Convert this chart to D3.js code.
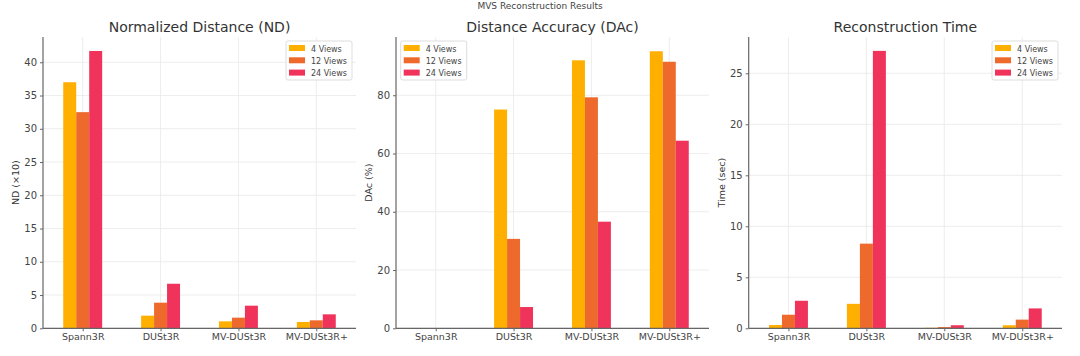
<!DOCTYPE html>
<html><head><meta charset="utf-8">
<script src="https://cdn.jsdelivr.net/npm/d3@7"></script>
<style>body{margin:0;background:#fff;} svg{display:block;font-family:"DejaVu Sans",sans-serif;}</style>
</head><body>
<script>
const categories = ["Spann3R","DUSt3R","MV-DUSt3R","MV-DUSt3R+"];
const seriesNames = ["4 Views","12 Views","24 Views"];
const colors = ["#FFAF00","#EE6A2C","#F0335A"];
const ndValues = [[37.0,1.9,1.05,0.95],[32.5,3.85,1.6,1.2],[41.7,6.7,3.4,2.1]];
const dacValues = [[0,75.1,92.0,95.1],[0,30.7,79.3,91.5],[0,7.3,36.6,64.4]];
const timeValues = [[0.32,2.4,0.05,0.3],[1.33,8.3,0.12,0.85],[2.7,27.2,0.3,1.95]];
const ndTicks = [0,5,10,15,20,25,30,35,40];
const dacTicks = [0,20,40,60,80];
const timeTicks = [0,5,10,15,20,25];

const W=1080,H=356;
const svg=d3.select("body").append("svg").attr("width",W).attr("height",H);
svg.append("text").attr("x",540).attr("y",9).attr("text-anchor","middle")
  .attr("font-size",9).attr("fill","#444").text("MVS Reconstruction Results");

const panels=[
 {title:"Normalized Distance (ND)",ylabel:"ND (×10)",vals:ndValues,ticks:ndTicks,ymax:43.8,x0:43,x1:356,lx:19,legend:"right"},
 {title:"Distance Accuracy (DAc)",ylabel:"DAc (%)",vals:dacValues,ticks:dacTicks,ymax:100.0,x0:396,x1:709,lx:372,legend:"left"},
 {title:"Reconstruction Time",ylabel:"Time (sec)",vals:timeValues,ticks:timeTicks,ymax:28.56,x0:748.7,x1:1062,lx:725,legend:"right"}
];
const yTop=37,yBot=328.3;
panels.forEach(p=>{
  const g=svg.append("g");
  const x=d3.scaleLinear().domain([-0.51,3.51]).range([p.x0,p.x1]);
  const y=d3.scaleLinear().domain([0,p.ymax]).range([yBot,yTop]);
  const bw=1/6;
  // grid
  g.selectAll(".hg").data(p.ticks).join("line").attr("x1",p.x0).attr("x2",p.x1)
   .attr("y1",d=>y(d)).attr("y2",d=>y(d)).attr("stroke","#e8e8e8").attr("stroke-width",0.8);
  g.selectAll(".vg").data(categories).join("line").attr("x1",(d,i)=>x(i)).attr("x2",(d,i)=>x(i))
   .attr("y1",yTop).attr("y2",yBot).attr("stroke","#e8e8e8").attr("stroke-width",0.8);
  // bars
  p.vals.forEach((s,si)=>{
    g.selectAll(".b"+si).data(s).join("rect")
     .attr("x",(d,i)=>x(i+(si-1)*bw-bw/2)).attr("width",x(bw)-x(0))
     .attr("y",d=>y(d)).attr("height",d=>yBot-y(d)).attr("fill",colors[si]);
  });
  // axes
  const ya=d3.axisLeft(y).tickValues(p.ticks).tickSize(3).tickPadding(3).tickFormat(d3.format("d"));
  const ag=g.append("g").attr("transform",`translate(${p.x0},0)`).call(ya);
  ag.select(".domain").remove();
  ag.selectAll("text").attr("font-size",10).attr("fill","#444").attr("font-family","DejaVu Sans");
  ag.selectAll("line").attr("stroke","#666");
  const xa=d3.axisBottom(x).tickValues([0,1,2,3]).tickFormat(i=>categories[i]).tickSize(3).tickPadding(2);
  const bg=g.append("g").attr("transform",`translate(0,${yBot})`).call(xa);
  bg.select(".domain").remove();
  bg.selectAll("text").attr("font-size",9.5).attr("fill","#444").attr("font-family","DejaVu Sans");
  bg.selectAll("line").attr("stroke","#666");
  g.append("line").attr("x1",p.x0).attr("x2",p.x0).attr("y1",yTop).attr("y2",yBot).attr("stroke","#666").attr("stroke-width",1.2);
  g.append("line").attr("x1",p.x0).attr("x2",p.x1).attr("y1",yBot).attr("y2",yBot).attr("stroke","#666").attr("stroke-width",1.2);
  // title
  g.append("text").attr("x",(p.x0+p.x1)/2).attr("y",32).attr("text-anchor","middle")
   .attr("font-size",14).attr("fill","#333").text(p.title);
  g.append("text").attr("transform",`translate(${p.lx},${(yTop+yBot)/2}) rotate(-90)`)
   .attr("text-anchor","middle").attr("font-size",9.5).attr("fill","#333").text(p.ylabel);
  // legend
  const lw=66,lh=39;
  const lx= p.legend==="right" ? p.x1-70 : p.x0+4.7;
  const lg=g.append("g").attr("transform",`translate(${lx},41)`);
  lg.append("rect").attr("width",lw).attr("height",lh).attr("fill","#fff").attr("fill-opacity",0.85)
    .attr("stroke","#ddd").attr("rx",2);
  seriesNames.forEach((n,i)=>{
    lg.append("rect").attr("x",3).attr("y",4+i*12.3).attr("width",16).attr("height",6).attr("fill",colors[i]);
    lg.append("text").attr("x",25).attr("y",10.5+i*12.3).attr("font-size",8).attr("fill","#444").text(n);
  });
});
</script>
</body></html>
